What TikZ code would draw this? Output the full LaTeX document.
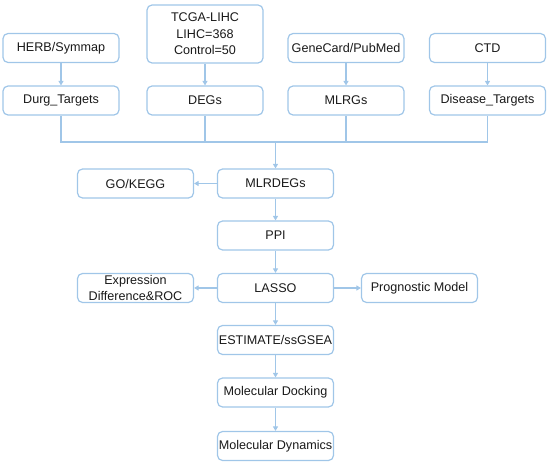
\documentclass[tikz,border=0pt]{standalone}
\usepackage{fontspec}
\setmainfont{Liberation Sans}
\usetikzlibrary{arrows.meta}
\definecolor{boxblue}{RGB}{160,198,232}
\definecolor{txt}{RGB}{25,25,25}
\begin{document}
\begin{tikzpicture}[x=1pt,y=-1pt,
  box/.style={draw=boxblue,line width=1.2pt,rounded corners=5pt,minimum width=116pt,minimum height=29pt,
    inner xsep=0pt,inner ysep=1pt,align=center,text=txt,font=\fontsize{12.6}{16.5}\selectfont},
  conn/.style={draw=boxblue,line width=1.1pt},
  arr/.style={conn,-{Triangle[width=5pt,length=4.5pt]}}]
\useasboundingbox (0,0) rectangle (550,465);
\node[box] (herb) at (61,48) {HERB/Symmap};
\node[box,minimum height=58pt] (tcga) at (205,34) {TCGA-LIHC\\LIHC=368\\Control=50};
\node[box] (gene) at (346,48) {GeneCard/PubMed};
\node[box] (ctd) at (487.5,48) {CTD};
\node[box] (durg) at (61,100.5) {Durg\_Targets};
\node[box] (degs) at (205,100.5) {DEGs};
\node[box] (mlrgs) at (346,100.5) {MLRGs};
\node[box] (dis) at (487.5,100.5) {Disease\_Targets};
\coordinate (bus) at (275.5,142);
\node[box] (mlrdegs) at (275.5,183.5) {MLRDEGs};
\node[box] (go) at (135.5,183.5) {GO/KEGG};
\node[box] (ppi) at (275.5,235.5) {PPI};
\node[box] (lasso) at (275.5,288) {LASSO};
\node[box] (expr) at (135.5,288) {Expression\\Difference\&ROC};
\node[box] (prog) at (419.5,288) {Prognostic Model};
\node[box] (est) at (275.5,340) {ESTIMATE/ssGSEA};
\node[box] (dock) at (275.5,392.5) {Molecular Docking};
\node[box] (dyn) at (275.5,446) {Molecular Dynamics};
\draw[arr] (herb) -- (durg);
\draw[arr] (tcga) -- (degs);
\draw[arr] (gene) -- (mlrgs);
\draw[arr] (ctd) -- (dis);
\draw[conn] (durg.south) |- (bus) -| (dis.south);
\draw[conn] (degs.south) -- (degs.south |- bus);
\draw[conn] (mlrgs.south) -- (mlrgs.south |- bus);
\draw[arr] (bus) -- (mlrdegs.north);
\draw[arr] (mlrdegs) -- (go);
\draw[arr] (mlrdegs) -- (ppi);
\draw[arr] (ppi) -- (lasso);
\draw[arr] (lasso) -- (expr);
\draw[arr] (lasso) -- (prog);
\draw[arr] (lasso) -- (est);
\draw[arr] (est) -- (dock);
\draw[arr] (dock) -- (dyn);
\end{tikzpicture}
\end{document}
